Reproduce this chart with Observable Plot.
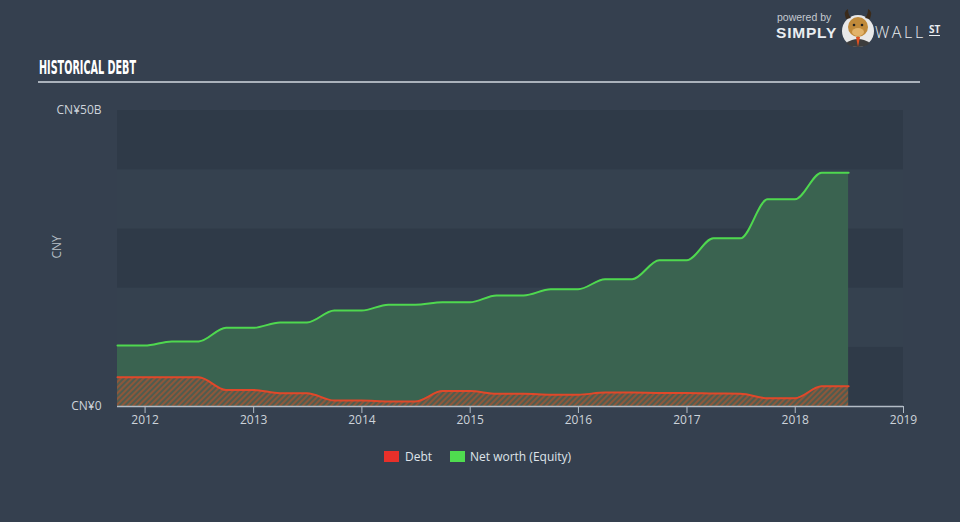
<!DOCTYPE html>
<html>
<head>
<meta charset="utf-8">
<script src="https://cdn.jsdelivr.net/npm/d3@7"></script>
<script src="https://cdn.jsdelivr.net/npm/@observablehq/plot@0.6"></script>
<style>
  html, body { margin: 0; padding: 0; }
  body { width: 960px; height: 522px; background: #35404f; position: relative; overflow: hidden; font-family: "Open Sans", "Noto Sans", sans-serif; }
  #chart { position: absolute; left: 0; top: 0; }
  #title { position: absolute; left: 39px; top: 56px; color: #ffffff; font-family: "Liberation Sans Narrow", "DejaVu Sans Condensed", sans-serif; font-weight: bold; font-size: 20px; line-height: 22px; white-space: nowrap; transform-origin: 0 0; display: inline-block; }
  #rule { position: absolute; left: 38px; top: 81px; width: 882px; height: 1.5px; background: #aab2bb; }
  #legend { position: absolute; top: 449px; left: 0; width: 960px; height: 16px; font-size: 12px; color: #dfe4ea; }
  .sw { position: absolute; width: 15px; height: 11px; top: 2px; }
  .lt { position: absolute; top: 0px; line-height: 16px; }
  #logo { position: absolute; left: 0; top: 0; }
  #logo div { white-space: nowrap; }
</style>
</head>
<body>
<div id="chart"></div>
<div id="title"><span id="titletext">HISTORICAL DEBT</span></div>
<div id="rule"></div>
<div id="legend"></div>
<div id="logo">
  <div style="position:absolute;left:777px;top:11px;font-family:'Liberation Sans',sans-serif;font-size:10.5px;line-height:12px;color:#c4cad1;">powered by</div>
  <div style="position:absolute;left:776px;top:25px;font-family:'Liberation Sans',sans-serif;font-size:15.5px;line-height:16px;font-weight:bold;color:#e9edf1;letter-spacing:0.8px;">SIMPLY</div>
  <svg style="position:absolute;left:840px;top:9px;" width="36" height="40" viewBox="0 0 36 40">
    <circle cx="18" cy="22" r="16" fill="#e8e8e8"/>
    <path d="M6 10 Q3 2 8 0 Q8 6 11 9 Z" fill="#3a2a1a"/>
    <path d="M30 10 Q33 2 28 0 Q28 6 25 9 Z" fill="#3a2a1a"/>
    <path d="M6 34 Q18 26 30 34 Q26 38 18 38 Q10 38 6 34 Z" fill="#3d3d3d"/>
    <path d="M16 28 L18 38 L20 28 Z" fill="#e05020"/>
    <ellipse cx="18" cy="18" rx="10" ry="10" fill="#c08a3a"/>
    <ellipse cx="18" cy="23" rx="6" ry="4" fill="#e2b36a"/>
    <circle cx="14" cy="16" r="1.3" fill="#222"/>
    <circle cx="22" cy="16" r="1.3" fill="#222"/>
  </svg>
  <div style="position:absolute;left:875px;top:25px;font-size:16px;line-height:15px;font-weight:300;color:#e9edf1;letter-spacing:2.6px;">WALL</div>
  <div style="position:absolute;left:929px;top:24px;font-size:10px;font-weight:bold;color:#e9edf1;border-bottom:1.5px solid #e9edf1;line-height:11px;">ST</div>
</div>
<script>
// ---- data ----
const dates = [
  "2011-09-30","2011-12-31","2012-03-31","2012-06-30","2012-09-30","2012-12-31",
  "2013-03-31","2013-06-30","2013-09-30","2013-12-31","2014-03-31","2014-06-30",
  "2014-09-30","2014-12-31","2015-03-31","2015-06-30","2015-09-30","2015-12-31",
  "2016-03-31","2016-06-30","2016-09-30","2016-12-31","2017-03-31","2017-06-30",
  "2017-09-30","2017-12-31","2018-03-31","2018-06-30"
];
const debt = [
  4.95, 4.95, 4.95, 4.95, 2.8, 2.8,
  2.25, 2.25, 1.0, 1.0, 0.85, 0.85,
  2.6, 2.6, 2.15, 2.15, 2.0, 2.0,
  2.35, 2.35, 2.3, 2.3, 2.2, 2.15,
  1.4, 1.4, 3.4, 3.4
];
const equity = [
  10.3, 10.3, 11.0, 11.0, 13.3, 13.3,
  14.2, 14.2, 16.2, 16.2, 17.2, 17.2,
  17.6, 17.6, 18.75, 18.75, 19.8, 19.8,
  21.5, 21.5, 24.7, 24.7, 28.4, 28.4,
  35.0, 35.0, 39.5, 39.5
];
const yTicks = [0, 50];
const yTickLabels = ["CN¥0", "CN¥50B"];
const xTickYears = ["2012","2013","2014","2015","2016","2017","2018","2019"];
const xDomain = ["2011-09-30", "2019-01-01"];
const bandStarts = [0, 10, 20, 30, 40];
const bandEnds = [10, 20, 30, 40, 50];
const seriesNames = ["Debt", "Net worth (Equity)"];
const seriesColors = ["#e8302a", "#4fdc4f"];

// ---- build ----
const rows = dates.map((d, i) => ({date: new Date(d), debt: debt[i], equity: equity[i]}));
const bands = bandStarts.map((s, i) => ({y1: s, y2: bandEnds[i], k: i % 2}));
const xTicks = xTickYears.map(y => new Date(y + "-01-01"));

const chart = Plot.plot({
  width: 960,
  height: 450,
  marginLeft: 117,
  marginRight: 57,
  marginTop: 110,
  marginBottom: 44,
  style: {background: "transparent", color: "#cdd3da", fontSize: "12px", fontFamily: "'Open Sans', sans-serif", overflow: "visible"},
  x: {type: "utc", domain: xDomain.map(d => new Date(d))},
  y: {domain: [0, 50]},
  marks: [
    Plot.rect(bands, {y1: "y1", y2: "y2", fill: d => d.k === 0 ? "#2f3a48" : "#35414f"}),
    Plot.areaY(rows, {x: "date", y: "equity", curve: "monotone-x", fill: "#3a6350"}),
    Plot.areaY(rows, {x: "date", y: "debt", curve: "monotone-x", fill: "url(#hatch)"}),
    Plot.lineY(rows, {x: "date", y: "equity", curve: "monotone-x", stroke: "#4fd84f", strokeWidth: 2}),
    Plot.lineY(rows, {x: "date", y: "debt", curve: "monotone-x", stroke: "#e0482a", strokeWidth: 2}),
    Plot.ruleY([0], {stroke: "#b3bcc6", strokeWidth: 1.5}),
    Plot.axisY(yTicks, {tickSize: 0, tickPadding: 16, tickFormat: (d) => yTickLabels[yTicks.indexOf(d)], label: null, fill: "#cdd3da"}),
    Plot.axisX(xTicks, {tickSize: 7, tickPadding: 2, tickFormat: d3.utcFormat("%Y"), label: null, stroke: "#b3bcc6", fill: "#cdd3da"}),
    Plot.text(["CNY"], {frameAnchor: "left", dx: -60, rotate: -90, fill: "#b9c0c8", fontSize: 12})
  ]
});

// hatch pattern for debt area
const ns = "http://www.w3.org/2000/svg";
const defs = document.createElementNS(ns, "defs");
defs.innerHTML = '<pattern id="hatch" patternUnits="userSpaceOnUse" width="4" height="4" patternTransform="rotate(45)">' +
  '<rect width="4" height="4" fill="#4f5c4f"/>' +
  '<line x1="1" y1="0" x2="1" y2="4" stroke="#9c5536" stroke-width="1.6"/></pattern>';
chart.insertBefore(defs, chart.firstChild);
document.getElementById("chart").appendChild(chart);

// legend
const legend = document.getElementById("legend");
const lpos = [[384, 405], [450, 470]];
seriesNames.forEach((n, i) => {
  const sw = document.createElement("div");
  sw.className = "sw"; sw.style.left = lpos[i][0] + "px"; sw.style.background = seriesColors[i];
  const t = document.createElement("div");
  t.className = "lt"; t.style.left = lpos[i][1] + "px"; t.textContent = n;
  legend.appendChild(sw); legend.appendChild(t);
});

// condense title to reference width
const tt = document.getElementById("title");
const w = document.getElementById("titletext").getBoundingClientRect().width;
tt.style.transform = "scaleX(" + (97 / w) + ")";
</script>
</body>
</html>
